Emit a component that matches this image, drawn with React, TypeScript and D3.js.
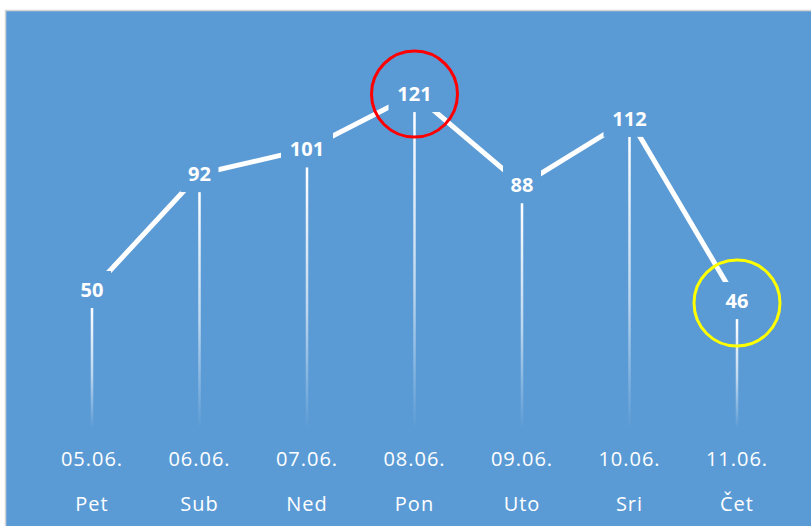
import React from "react";
import * as d3 from "d3";

const dates = ["05.06.", "06.06.", "07.06.", "08.06.", "09.06.", "10.06.", "11.06."];
const days = ["Pet", "Sub", "Ned", "Pon", "Uto", "Sri", "Čet"];
const values = [50, 92, 101, 121, 88, 112, 46];
const redIndex = 3;
const yellowIndex = 6;

const W = 811;
const H = 526;
const BG = "#5B9BD5";
const FONT = "'Open Sans', 'Noto Sans', sans-serif";

export default function App() {
  const x = d3.scalePoint<string>().domain(dates).range([92, 737]);
  const y = d3.scaleLinear().domain([0, 100]).range([428, 152]);
  const line = d3
    .line<number>()
    .x((_, i) => x(dates[i]) as number)
    .y((d) => y(d));
  const path = line(values) || "";

  return (
    <svg
      width={W}
      height={H}
      style={{ position: "absolute", left: 0, top: 0, background: "#fff" }}
    >
      <defs>
        <linearGradient id="drop" x1="0" y1="0" x2="0" y2="1">
          <stop offset="0" stopColor="#fff" stopOpacity={1} />
          <stop offset="0.55" stopColor="#fff" stopOpacity={0.6} />
          <stop offset="1" stopColor="#fff" stopOpacity={0} />
        </linearGradient>
      </defs>
      <rect x={5.5} y={10.5} width={W} height={H} fill={BG} stroke="#d4d4d4" strokeWidth={1.5} />
      {values.map((v, i) => {
        const cx = x(dates[i]) as number;
        const top = y(v) + 18;
        return (
          <rect
            key={"d" + i}
            x={cx - 1.25}
            y={top}
            width={2.5}
            height={y(0) - top}
            fill="url(#drop)"
          />
        );
      })}
      <path d={path} fill="none" stroke="#fff" strokeWidth={5} />
      {values.map((v, i) => {
        const cx = x(dates[i]) as number;
        const cy = y(v);
        const wHalf = String(v).length > 2 ? 26 : 19;
        return (
          <g key={"l" + i}>
            <rect x={cx - wHalf} y={cy - 19} width={wHalf * 2} height={37} fill={BG} />
            <text
              x={cx}
              y={cy + 7}
              textAnchor="middle"
              fill="#fff"
              fontFamily={FONT}
              fontWeight="bold"
              fontSize={20}
            >
              {v}
            </text>
          </g>
        );
      })}
      <circle
        cx={x(dates[redIndex]) as number}
        cy={y(values[redIndex])}
        r={43}
        fill="none"
        stroke="#FF0000"
        strokeWidth={3}
      />
      <circle
        cx={x(dates[yellowIndex]) as number}
        cy={y(values[yellowIndex]) + 2}
        r={43}
        fill="none"
        stroke="#FFFF00"
        strokeWidth={3}
      />
      {dates.map((d, i) => (
        <text
          key={"t" + i}
          x={x(d) as number}
          y={466}
          textAnchor="middle"
          fill="#fff"
          fontFamily={FONT}
          fontSize={20}
          letterSpacing={1}
        >
          {d}
        </text>
      ))}
      {days.map((d, i) => (
        <text
          key={"w" + i}
          x={x(dates[i]) as number}
          y={511}
          textAnchor="middle"
          fill="#fff"
          fontFamily={FONT}
          fontSize={20}
          letterSpacing={1}
        >
          {d}
        </text>
      ))}
    </svg>
  );
}
